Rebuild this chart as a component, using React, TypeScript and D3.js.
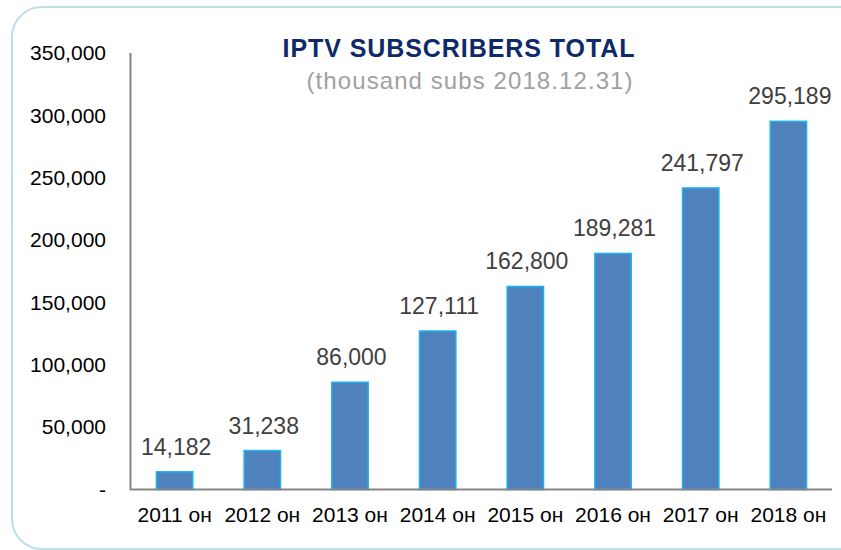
import React from "react";
import * as d3 from "d3";

const categories = ["2011 он", "2012 он", "2013 он", "2014 он", "2015 он", "2016 он", "2017 он", "2018 он"];
const values = [14182, 31238, 86000, 127111, 162800, 189281, 241797, 295189];
const yTicks = [0, 50000, 100000, 150000, 200000, 250000, 300000, 350000];
const titleText = "IPTV SUBSCRIBERS TOTAL";
const subtitleText = "(thousand subs 2018.12.31)";

const W = 841;
const H = 550;
const FONT = "'Liberation Sans', Arial, sans-serif";

export default function App() {
  const x = d3.scaleBand<string>().domain(categories).range([131, 832]).paddingInner(0.585).paddingOuter(0.29);
  const y = d3.scaleLinear().domain([0, 350000]).range([489.5, 53]);
  const fmt = d3.format(",");

  return (
    <svg width={W} height={H} style={{ position: "absolute", left: 0, top: 0, background: "#fff" }}>
      <rect x={12} y={7} width={870} height={542} rx={30} ry={30} fill="#fff" stroke="#BCDFEA" strokeWidth={2} />
      <text x={282.5} y={57} fontFamily={FONT} fontWeight="bold" fontSize={25} fill="#0E2A6B" textLength={352} lengthAdjust="spacing">
        {titleText}
      </text>
      <text x={306.5} y={88.5} fontFamily={FONT} fontSize={24} fill="#A0A0A0" textLength={326} lengthAdjust="spacing">
        {subtitleText}
      </text>
      {yTicks.map((t) => (
        <text key={t} x={106} y={y(t)} dy="0.35em" textAnchor="end" fontFamily={FONT} fontSize={21} fill="#000">
          {t === 0 ? "-" : fmt(t)}
        </text>
      ))}
      {categories.map((c, i) => {
        const bx = x(c)!;
        const bw = x.bandwidth();
        const top = y(values[i]);
        return (
          <g key={c}>
            <rect x={bx} y={top} width={bw} height={y(0) - top} fill="#4F81BD" stroke="#1CB5EE" strokeWidth={1.5} />
            <text x={bx + bw / 2 + 1.5} y={top - 17} textAnchor="middle" fontFamily={FONT} fontSize={23} fill="#404040">
              {fmt(values[i])}
            </text>
            <text x={bx + bw / 2} y={522} textAnchor="middle" fontFamily={FONT} fontSize={21} fill="#000">
              {c}
            </text>
          </g>
        );
      })}
      <line x1={130.5} x2={130.5} y1={53} y2={490} stroke="#868686" strokeWidth={2} />
      <line x1={130} x2={832} y1={489.5} y2={489.5} stroke="#868686" strokeWidth={2} />
    </svg>
  );
}
